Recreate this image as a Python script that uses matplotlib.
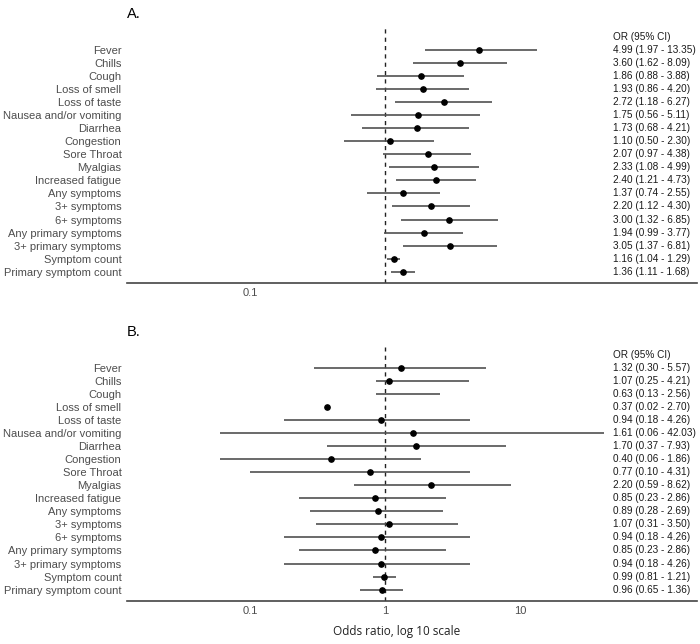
#!/usr/bin/env python3
''' forest plots of symptom odds ratios, panels A and B '''

import matplotlib
matplotlib.use('Agg')
import matplotlib.pyplot as plt
import matplotlib.transforms as mtransforms
import numpy as np

labels = ['Fever', 'Chills', 'Cough', 'Loss of smell', 'Loss of taste',
          'Nausea and/or vomiting', 'Diarrhea', 'Congestion', 'Sore Throat',
          'Myalgias', 'Increased fatigue', 'Any symptoms', '3+ symptoms',
          '6+ symptoms', 'Any primary symptoms', '3+ primary symptoms',
          'Symptom count', 'Primary symptom count']

# panel A: odds ratio and 95% CI
or_a = [4.99, 3.60, 1.86, 1.93, 2.72, 1.75, 1.73, 1.10, 2.07, 2.33, 2.40,
        1.37, 2.20, 3.00, 1.94, 3.05, 1.16, 1.36]
lo_a = [1.97, 1.62, 0.88, 0.86, 1.18, 0.56, 0.68, 0.50, 0.97, 1.08, 1.21,
        0.74, 1.12, 1.32, 0.99, 1.37, 1.04, 1.11]
hi_a = [13.35, 8.09, 3.88, 4.20, 6.27, 5.11, 4.21, 2.30, 4.38, 4.99, 4.73,
        2.55, 4.30, 6.85, 3.77, 6.81, 1.29, 1.68]

# panel B: printed odds ratio and 95% CI
or_b = [1.32, 1.07, 0.63, 0.37, 0.94, 1.61, 1.70, 0.40, 0.77, 2.20, 0.85,
        0.89, 1.07, 0.94, 0.85, 0.94, 0.99, 0.96]
lo_b = [0.30, 0.25, 0.13, 0.02, 0.18, 0.06, 0.37, 0.06, 0.10, 0.59, 0.23,
        0.28, 0.31, 0.18, 0.23, 0.18, 0.81, 0.65]
hi_b = [5.57, 4.21, 2.56, 2.70, 4.26, 42.03, 7.93, 1.86, 4.31, 8.62, 2.86,
        2.69, 3.50, 4.26, 2.86, 4.26, 1.21, 1.36]

# panel B as it is drawn in the figure (some marks differ from the text)
nan = np.nan
dot_b = [1.32, 1.07, nan, 0.37, 0.94, 1.61, 1.70, 0.40, 0.77, 2.20, 0.85,
         0.89, 1.07, 0.94, 0.85, 0.94, 0.99, 0.96]
line_lo_b = [0.30, 0.86, 0.86, nan, 0.18, 0.06, 0.37, 0.06, 0.10, 0.59, 0.23,
             0.28, 0.31, 0.18, 0.23, 0.18, 0.81, 0.65]
line_hi_b = [5.57, 4.21, 2.56, nan, 4.26, 42.03, 7.93, 1.86, 4.31, 8.62, 2.86,
             2.69, 3.50, 4.26, 2.86, 4.26, 1.21, 1.36]

ticks_a = [0.1]
ticks_b = [0.1, 1, 10]

plt.rcParams['font.family'] = ['Liberation Sans', 'DejaVu Sans']

LABEL_COL = '#4d4d4d'
LINE_COL = '#505050'
TEXT_X = 0.8526  # left edge of the OR column, axes fraction


def forest(ax, dots, los, his, ors, lows, highs, ticks, top):
    ''' one forest panel '''
    y = np.arange(len(labels))
    ax.hlines(y, los, his, color=LINE_COL, lw=1.2, zorder=2)
    ax.plot(dots, y, 'o', color='black', markersize=3.8, zorder=3)
    ax.axvline(1, color='#222222', lw=1.0, ls=(0, (3, 3)), zorder=1)
    ax.set_xscale('log')
    ax.set_xlim(0.01227, 204.8)
    ax.set_ylim(len(labels) - 1 + 0.85, -top)
    ax.set_yticks(y)
    ax.set_yticklabels(labels, fontsize=8, color=LABEL_COL)
    ax.set_xticks(ticks)
    ax.set_xticklabels([f'{t:g}' for t in ticks], fontsize=8, color=LABEL_COL)
    ax.xaxis.set_minor_locator(matplotlib.ticker.NullLocator())
    ax.tick_params(axis='both', length=0)
    ax.tick_params(axis='y', pad=4)
    ax.tick_params(axis='x', pad=4)
    for side in ['top', 'right', 'left']:
        ax.spines[side].set_visible(False)
    ax.spines['bottom'].set_color('#444444')
    ax.spines['bottom'].set_linewidth(1.2)

    trans = mtransforms.blended_transform_factory(ax.transAxes, ax.transData)
    ax.text(TEXT_X, -1, 'OR (95% CI)', transform=trans, fontsize=7.2,
            va='center', ha='left', color='#1a1a1a')
    for i, (o, l, h) in enumerate(zip(ors, lows, highs)):
        ax.text(TEXT_X, i, f'{o:.2f} ({l:.2f} - {h:.2f})', transform=trans,
                fontsize=7.2, va='center', ha='left', color='#1a1a1a')


fig = plt.figure(figsize=(7, 6.44), dpi=100)
ax_a = fig.add_axes([0.1814, 0.561, 0.814, 0.397])
ax_b = fig.add_axes([0.1814, 0.0672, 0.814, 0.394])

forest(ax_a, or_a, lo_a, hi_a, or_a, lo_a, hi_a, ticks_a, 1.77)
forest(ax_b, dot_b, line_lo_b, line_hi_b, or_b, lo_b, hi_b, ticks_b, 1.6)

fig.text(0.1814, 1 - 14 / 644, 'A.', fontsize=10.5, va='center', ha='left')
fig.text(0.1814, 1 - 332 / 644, 'B.', fontsize=10.5, va='center', ha='left')
fig.text(397 / 700, 1 - 632 / 644, 'Odds ratio, log 10 scale',
         fontsize=8.5, family=['Open Sans', 'DejaVu Sans'], va='center',
         ha='center', color='#222222')

fig.savefig('out.png', dpi=100)
